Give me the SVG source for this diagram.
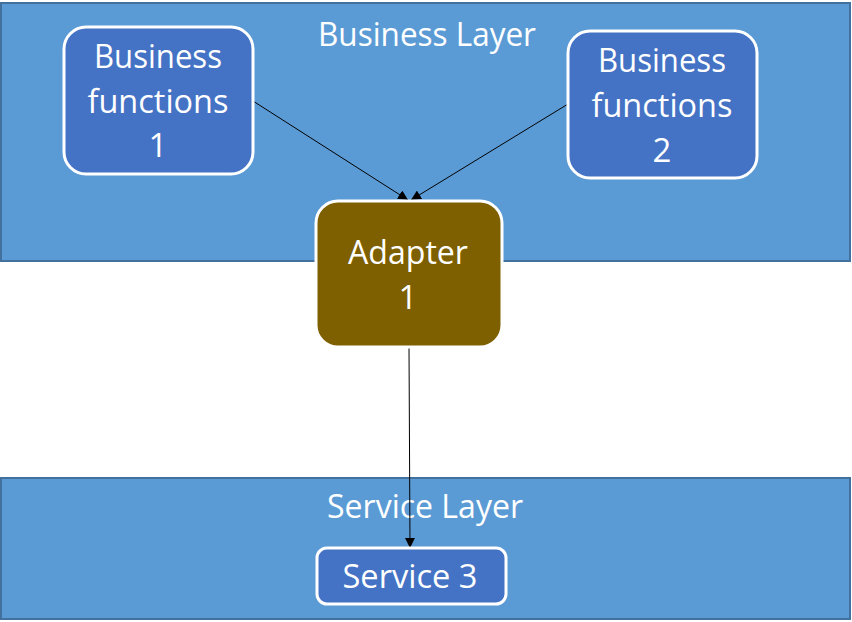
<svg xmlns="http://www.w3.org/2000/svg" width="852" height="622" viewBox="0 0 852 622">
<defs>
<style>
.layer{fill:#5B9BD5;stroke:#41719C;stroke-width:2}
.node{fill:#4472C4;stroke:#FFFFFF;stroke-width:3}
.adapter{fill:#7F6000;stroke:#FFFFFF;stroke-width:3}
.t{font-family:"Open Sans","Noto Sans","Liberation Sans",sans-serif;font-size:33px;fill:#FFFFFF;text-anchor:middle}
.conn{stroke:#000000;stroke-width:1;fill:none}
</style>
<marker id="arrow" viewBox="0 0 10 10" refX="10" refY="5" markerWidth="10" markerHeight="10" markerUnits="userSpaceOnUse" orient="auto">
<path d="M0,0 L10,5 L0,10 Z" fill="#000000"/>
</marker>
</defs>
<g id="business-layer">
<rect class="layer" x="1" y="3" width="849" height="258"/>
<text class="t" x="427" y="46" textLength="218" lengthAdjust="spacingAndGlyphs">Business Layer</text>
</g>
<g id="service-layer">
<rect class="layer" x="1" y="478" width="849" height="141"/>
<text class="t" x="425" y="518" textLength="196" lengthAdjust="spacingAndGlyphs">Service Layer</text>
</g>
<g id="connectors">
<line class="conn" x1="253" y1="101" x2="408" y2="200" marker-end="url(#arrow)"/>
<line class="conn" x1="568" y1="104" x2="411" y2="200" marker-end="url(#arrow)"/>
<line class="conn" x1="409" y1="347" x2="410" y2="548" marker-end="url(#arrow)"/>
</g>
<g id="business-functions-1">
<rect class="node" x="64" y="27" width="189" height="147" rx="22"/>
<text class="t" x="158" y="68" textLength="128" lengthAdjust="spacingAndGlyphs">Business</text>
<text class="t" x="158" y="113" textLength="141" lengthAdjust="spacingAndGlyphs">functions</text>
<text class="t" x="158" y="157">1</text>
</g>
<g id="business-functions-2">
<rect class="node" x="568" y="31" width="189" height="147" rx="22"/>
<text class="t" x="662" y="72" textLength="128" lengthAdjust="spacingAndGlyphs">Business</text>
<text class="t" x="662" y="117" textLength="141" lengthAdjust="spacingAndGlyphs">functions</text>
<text class="t" x="662" y="162">2</text>
</g>
<g id="adapter-1">
<rect class="adapter" x="316" y="201" width="186" height="146" rx="22"/>
<text class="t" x="408" y="264" textLength="120" lengthAdjust="spacingAndGlyphs">Adapter</text>
<text class="t" x="408" y="309">1</text>
</g>
<g id="service-3">
<rect class="node" x="317" y="548" width="189" height="56" rx="10"/>
<text class="t" x="410" y="588" textLength="135" lengthAdjust="spacingAndGlyphs">Service 3</text>
</g>
</svg>
